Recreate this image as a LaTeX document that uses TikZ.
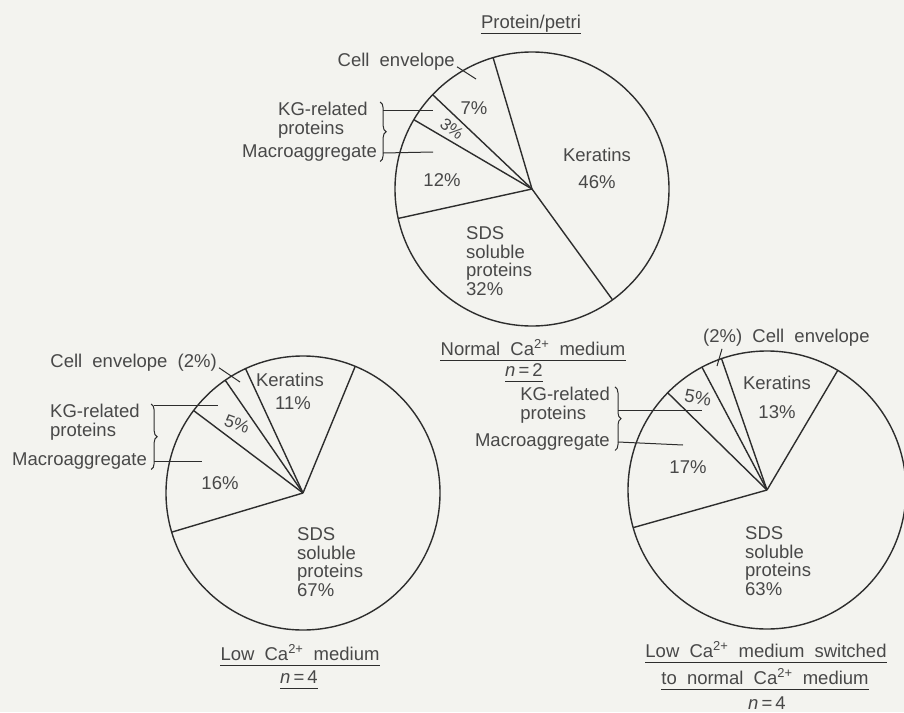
\documentclass[tikz,border=0pt]{standalone}
\usepackage{fontspec}
\setsansfont{Liberation Sans}
\usetikzlibrary{decorations.pathreplacing,positioning}
\definecolor{paper}{RGB}{243,243,239}
\definecolor{ink}{RGB}{72,72,72}
\definecolor{pen}{RGB}{45,45,45}
\newcommand\lblfont{\sffamily\fontsize{18.5}{18.5}\selectfont\spaceskip=0.55em plus 0.1em\relax}

\begin{document}
\begin{tikzpicture}[x=1pt,y=-1pt,
  every node/.style={font=\lblfont,text=ink,inner sep=0pt},
  pie/.style={draw=pen,line width=1.4pt},
  lead/.style={draw=pen,line width=1pt},
  brc/.style={draw=pen,line width=1pt,decorate,decoration={brace,amplitude=6pt}},
  ttl/.style={anchor=base}]
  \fill[paper] (0,0) rectangle (904,712);
  \useasboundingbox (0,0) rectangle (904,712);

  % normal Ca
  \coordinate (c1) at (532,189);
  \draw[pie] (c1) circle[radius=137];
  \foreach \a in {253.5,223.5,210.4,167.6,54} \draw[pie] (c1) -- ++(\a:137);
  \node[ttl] (t1) at (531,28) {Protein/petri};
  \node (k1) at (597,155) {Keratins};
  \node (k1p) at (597,182) {46\%};
  \node (p7) at (474,108) {7\%};
  \node[rotate=-37,scale=0.9] (p3) at (452,129) {3\%};
  \node (p12) at (442,180) {12\%};
  \node[align=left,anchor=west] (s1) at (466,261) {SDS\\soluble\\proteins\\32\%};
  \node[anchor=east] (e1) at (455,62) {Cell envelope};
  \coordinate (e1p) at (476,79);
  \draw[lead] ([xshift=2pt]e1.base east) -- (e1p);
  \node[align=left,anchor=west] (g1) at (278,120) {KG-related\\proteins};
  \node[anchor=west] (m1) at (242,153) {Macroaggregate};
  \draw[brc] ([xshift=3pt]m1.east |- g1.north) -- ([xshift=3pt]m1.south east);
  \coordinate (g1p) at (433,110);
  \coordinate (m1p) at (433,152);
  \draw[lead] ([xshift=6pt]m1.east |- g1p) -- (g1p);
  \draw[lead] ([xshift=6pt]m1.east) -- (m1p);
  \node[ttl] (t2) at (533,355) {Normal Ca\textsuperscript{2+} medium};
  \node[ttl] (t3) at (524,376) {\textit{n}\,=\,2};

  % low Ca
  \coordinate (c2) at (303,493);
  \draw[pie] (c2) circle[radius=137];
  \foreach \a in {292.4,245.2,235.4,217,163.4} \draw[pie] (c2) -- ++(\a:137);
  \node (k2) at (290,380) {Keratins};
  \node (k2p) at (293,403) {11\%};
  \node[rotate=-20,scale=0.95] (p5) at (237,424) {5\%};
  \node (p16) at (220,483) {16\%};
  \node[align=left,anchor=west] (s2) at (297,562) {SDS\\soluble\\proteins\\67\%};
  \node[anchor=east] (e2) at (217,363) {Cell envelope (2\%)};
  \coordinate (e2p) at (240,382);
  \draw[lead] ([xshift=2pt]e2.base east) -- (e2p);
  \node[align=left,anchor=west] (g2) at (50,422) {KG-related\\proteins};
  \node[anchor=west] (m2) at (12,461) {Macroaggregate};
  \draw[brc] ([xshift=4pt]m2.east |- g2.north) -- ([xshift=4pt]m2.south east);
  \coordinate (g2p) at (218,405);
  \coordinate (m2p) at (202,461);
  \draw[lead] ([xshift=7pt]m2.east |- g2p) -- (g2p);
  \draw[lead] ([xshift=7pt]m2.east) -- (m2p);
  \node[ttl] (t4) at (300,660) {Low Ca\textsuperscript{2+} medium};
  \node[ttl] (t5) at (299,683) {\textit{n}\,=\,4};

  % switched
  \coordinate (c3) at (767,490);
  \draw[pie] (c3) circle[radius=139];
  \foreach \a in {300.6,250.9,242.1,224.4,164.3} \draw[pie] (c3) -- ++(\a:139);
  \node (k3) at (777,383) {Keratins};
  \node (k3p) at (777,412) {13\%};
  \node[rotate=-10] (q5) at (698,398) {5\%};
  \node (q17) at (688,467) {17\%};
  \node[align=left,anchor=west] (s3) at (745,561) {SDS\\soluble\\proteins\\63\%};
  \node[anchor=west] (e3) at (703,338) {(2\%) Cell envelope};
  \coordinate (e3p) at (717,366);
  \draw[lead] ([xshift=19pt,yshift=-2pt]e3.south west) -- (e3p);
  \node[align=left,anchor=east] (g3) at (610,405) {KG-related\\proteins};
  \node[anchor=east] (m3) at (610,442) {Macroaggregate};
  \draw[brc] ([xshift=5pt]m3.east |- g3.north) -- ([xshift=5pt]m3.south east);
  \coordinate (g3p) at (702,410);
  \coordinate (m3p) at (683,445);
  \draw[lead] ([xshift=8pt]m3.east |- g3p) -- (g3p);
  \draw[lead] ([xshift=8pt]m3.east) -- (m3p);
  \node[ttl] (t6) at (766,657) {Low Ca\textsuperscript{2+} medium switched};
  \node[ttl] (t7) at (765,684) {to normal Ca\textsuperscript{2+} medium};
  \node[ttl] (t8) at (767,709) {\textit{n}\,=\,4};

  \foreach \t in {t1,t2,t3,t4,t5,t6,t7}
    \draw[lead] ([yshift=-5pt]\t.base west) -- ([yshift=-5pt]\t.base east);
\end{tikzpicture}
\end{document}
